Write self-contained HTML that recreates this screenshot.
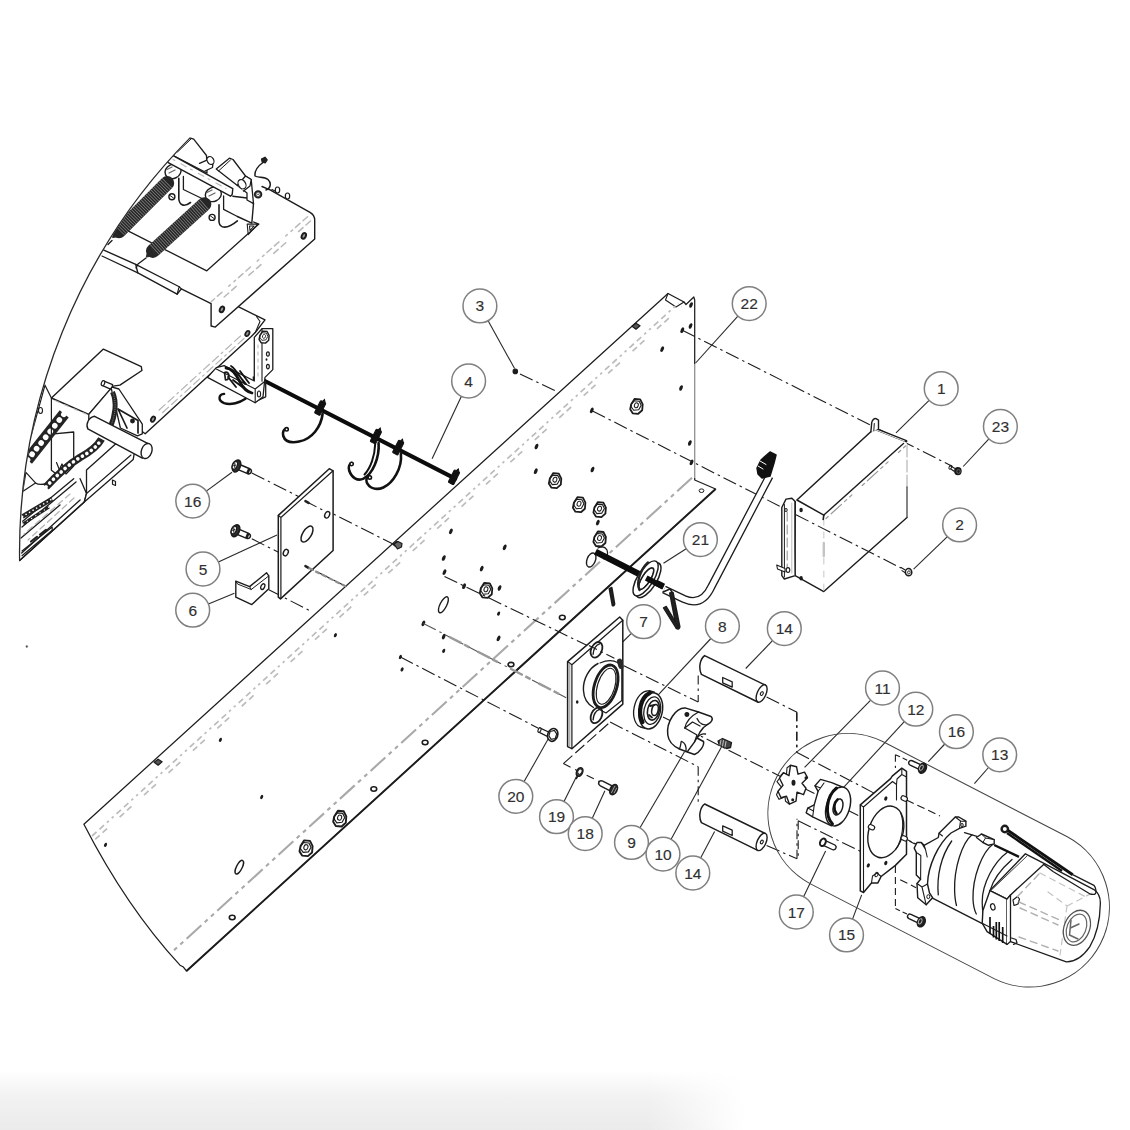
<!DOCTYPE html>
<html><head><meta charset="utf-8"><title>Exploded view</title>
<style>
html,body{margin:0;padding:0;background:#fff;}
body{width:1130px;height:1130px;overflow:hidden;position:relative;font-family:"Liberation Sans",sans-serif;}
#shade{position:absolute;left:0;top:1070px;width:745px;height:60px;
 background:linear-gradient(to bottom,rgba(236,236,236,0) 0%,rgba(238,238,238,.8) 45%,#ebebeb 100%);
 -webkit-mask-image:linear-gradient(to right,#000 0%,#000 87%,transparent 100%);mask-image:linear-gradient(to right,#000 0%,#000 87%,transparent 100%);}
svg{position:absolute;left:0;top:0;}
text{font-family:"Liberation Sans",sans-serif;}
</style></head><body>
<div id="shade"></div>
<svg width="1130" height="1130" viewBox="0 0 1130 1130">
<path d="M83.9,824.2 L668,293.5 L684,302 L686,304.5 L693.8,297 L694.7,300 L694.7,480 L715.6,489 L186.5,971 L183,966.7 L180,965.2 Q126.4,907 83.9,824.2 Z" stroke="#1c1c1c" stroke-width="1.25" fill="none" stroke-linejoin="round" stroke-linecap="round"/>
<path d="M668,293.5 L665.5,300 L676,307 L684,302" stroke="#1c1c1c" stroke-width="1.1" fill="none" stroke-linejoin="round" stroke-linecap="round"/>
<line x1="694.7" y1="364" x2="694.7" y2="478" stroke="#fff" stroke-width="2.4" stroke-linecap="butt"/>
<line x1="694.7" y1="364" x2="694.7" y2="478" stroke="#8a8a8a" stroke-width="1.2" stroke-linecap="butt"/>
<line x1="715.6" y1="489" x2="186.5" y2="971" stroke="#1c1c1c" stroke-width="1.9" stroke-linecap="butt"/>
<line x1="692" y1="477.8" x2="173.3" y2="950.8" stroke="#a9a9a9" stroke-width="2.1" stroke-linecap="butt" stroke-dasharray="20 4.5 4 4.5 4 4.5"/>
<line x1="92.1" y1="836" x2="678.5" y2="303.2" stroke="#bcbcbc" stroke-width="1.7" stroke-linecap="butt" stroke-dasharray="6 4 6 4 2.5 4 2.5 4"/>
<line x1="95.2" y1="839.4" x2="681.6" y2="306.6" stroke="#bcbcbc" stroke-width="1.7" stroke-linecap="butt" stroke-dasharray="6 4 6 17"/>
<ellipse cx="701.5" cy="490.7" rx="2.4" ry="1.8" transform="rotate(0 701.5 490.7)" stroke="#1c1c1c" stroke-width="1" fill="none"/>
<path d="M632,326.2 l4,-3 l4,2.5 l-4,3.5 Z" stroke="#1c1c1c" stroke-width="1.2" fill="#555" stroke-linejoin="round" stroke-linecap="round"/>
<path d="M393,544.6 l4,-3 l4,2.5 l-4,3.5 Z" stroke="#1c1c1c" stroke-width="1.2" fill="#555" stroke-linejoin="round" stroke-linecap="round"/>
<path d="M154.1,762.2 l4,-3 l4,2.5 l-4,3.5 Z" stroke="#1c1c1c" stroke-width="1.2" fill="#555" stroke-linejoin="round" stroke-linecap="round"/>
<ellipse cx="662.2" cy="349.1" rx="1.6" ry="3.0" transform="rotate(25 662.2 349.1)" fill="#1c1c1c"/>
<ellipse cx="681" cy="388" rx="1.6" ry="3.0" transform="rotate(25 681 388)" fill="#1c1c1c"/>
<ellipse cx="689.8" cy="443" rx="1.6" ry="3.0" transform="rotate(25 689.8 443)" fill="#1c1c1c"/>
<ellipse cx="691.6" cy="462.4" rx="1.6" ry="3.0" transform="rotate(25 691.6 462.4)" fill="#1c1c1c"/>
<ellipse cx="591.8" cy="410.4" rx="1.6" ry="3.0" transform="rotate(25 591.8 410.4)" fill="#1c1c1c"/>
<ellipse cx="592.5" cy="469.5" rx="1.6" ry="3.0" transform="rotate(25 592.5 469.5)" fill="#1c1c1c"/>
<ellipse cx="536.5" cy="446.5" rx="1.6" ry="3.0" transform="rotate(25 536.5 446.5)" fill="#1c1c1c"/>
<ellipse cx="535.8" cy="471.2" rx="1.6" ry="3.0" transform="rotate(25 535.8 471.2)" fill="#1c1c1c"/>
<ellipse cx="597.8" cy="522.6" rx="1.6" ry="3.0" transform="rotate(25 597.8 522.6)" fill="#1c1c1c"/>
<ellipse cx="450.9" cy="531.4" rx="1.6" ry="3.0" transform="rotate(25 450.9 531.4)" fill="#1c1c1c"/>
<ellipse cx="504.7" cy="547.3" rx="1.6" ry="3.0" transform="rotate(25 504.7 547.3)" fill="#1c1c1c"/>
<ellipse cx="443.8" cy="558" rx="1.6" ry="3.0" transform="rotate(25 443.8 558)" fill="#1c1c1c"/>
<ellipse cx="444.5" cy="572.1" rx="1.6" ry="3.0" transform="rotate(25 444.5 572.1)" fill="#1c1c1c"/>
<ellipse cx="481.7" cy="568.6" rx="1.6" ry="3.0" transform="rotate(25 481.7 568.6)" fill="#1c1c1c"/>
<ellipse cx="464.1" cy="586.2" rx="1.6" ry="3.0" transform="rotate(25 464.1 586.2)" fill="#1c1c1c"/>
<ellipse cx="423.4" cy="623.4" rx="1.6" ry="3.0" transform="rotate(25 423.4 623.4)" fill="#1c1c1c"/>
<ellipse cx="443.7" cy="636.6" rx="1.6" ry="3.0" transform="rotate(25 443.7 636.6)" fill="#1c1c1c"/>
<ellipse cx="498.6" cy="638.4" rx="1.6" ry="3.0" transform="rotate(25 498.6 638.4)" fill="#1c1c1c"/>
<ellipse cx="499.5" cy="588" rx="1.6" ry="3.0" transform="rotate(25 499.5 588)" fill="#1c1c1c"/>
<ellipse cx="682.3" cy="330.2" rx="1.6" ry="3.0" transform="rotate(25 682.3 330.2)" fill="#1c1c1c"/>
<ellipse cx="691" cy="305" rx="1.6" ry="3.0" transform="rotate(25 691 305)" fill="#1c1c1c"/>
<ellipse cx="690.5" cy="326" rx="1.6" ry="3.0" transform="rotate(25 690.5 326)" fill="#1c1c1c"/>
<ellipse cx="400.4" cy="657" rx="1.4" ry="2.2" transform="rotate(25 400.4 657)" fill="#1c1c1c"/>
<ellipse cx="402.1" cy="669.4" rx="1.4" ry="2.2" transform="rotate(25 402.1 669.4)" fill="#1c1c1c"/>
<ellipse cx="335.4" cy="635.2" rx="1.4" ry="2.2" transform="rotate(25 335.4 635.2)" fill="#1c1c1c"/>
<ellipse cx="220.4" cy="739.8" rx="1.4" ry="2.2" transform="rotate(25 220.4 739.8)" fill="#1c1c1c"/>
<ellipse cx="261.7" cy="797" rx="1.4" ry="2.2" transform="rotate(25 261.7 797)" fill="#1c1c1c"/>
<ellipse cx="105.5" cy="844.8" rx="1.4" ry="2.2" transform="rotate(25 105.5 844.8)" fill="#1c1c1c"/>
<ellipse cx="443.7" cy="650.8" rx="1.4" ry="2.2" transform="rotate(25 443.7 650.8)" fill="#1c1c1c"/>
<ellipse cx="498.6" cy="613.6" rx="1.4" ry="2.2" transform="rotate(25 498.6 613.6)" fill="#1c1c1c"/>
<ellipse cx="443.4" cy="604.8" rx="3.3" ry="8.8" transform="rotate(27 443.4 604.8)" stroke="#1c1c1c" stroke-width="1.4" fill="none"/>
<ellipse cx="239.3" cy="867.2" rx="2.8" ry="7.5" transform="rotate(27 239.3 867.2)" stroke="#1c1c1c" stroke-width="1.4" fill="none"/>
<ellipse cx="562.3" cy="617.5" rx="2.9" ry="2.2" transform="rotate(0 562.3 617.5)" stroke="#1c1c1c" stroke-width="1.6" fill="none"/>
<ellipse cx="511" cy="664.6" rx="2.9" ry="2.2" transform="rotate(0 511 664.6)" stroke="#1c1c1c" stroke-width="1.6" fill="none"/>
<ellipse cx="425.1" cy="742.5" rx="2.9" ry="2.2" transform="rotate(0 425.1 742.5)" stroke="#1c1c1c" stroke-width="1.6" fill="none"/>
<ellipse cx="373.8" cy="789" rx="2.9" ry="2.2" transform="rotate(0 373.8 789)" stroke="#1c1c1c" stroke-width="1.6" fill="none"/>
<ellipse cx="232.2" cy="917.5" rx="2.9" ry="2.2" transform="rotate(0 232.2 917.5)" stroke="#1c1c1c" stroke-width="1.6" fill="none"/>
<g transform="translate(636.7 405.8) scale(1.0)"><path d="M-5.5,-1.5 L-2,-7 L3.5,-6.5 L6,-1.5 L5.5,4.5 L1.5,8 L-4,7.5 L-6.5,3.5 Z" fill="#fff" stroke="#1c1c1c" stroke-width="1.8" stroke-linejoin="round"/><path d="M-5.5,-1.5 L-2.5,-5 L2.5,-4.5 L4.5,-0.5 L2,4 L-3,4.5 L-5.5,1 Z" fill="none" stroke="#1c1c1c" stroke-width="1.1" stroke-linejoin="round"/><ellipse cx="-0.5" cy="-0.3" rx="1.9" ry="2.5" transform="rotate(20)" fill="none" stroke="#1c1c1c" stroke-width="1"/></g>
<g transform="translate(555.3 480.1) scale(1.0)"><path d="M-5.5,-1.5 L-2,-7 L3.5,-6.5 L6,-1.5 L5.5,4.5 L1.5,8 L-4,7.5 L-6.5,3.5 Z" fill="#fff" stroke="#1c1c1c" stroke-width="1.8" stroke-linejoin="round"/><path d="M-5.5,-1.5 L-2.5,-5 L2.5,-4.5 L4.5,-0.5 L2,4 L-3,4.5 L-5.5,1 Z" fill="none" stroke="#1c1c1c" stroke-width="1.1" stroke-linejoin="round"/><ellipse cx="-0.5" cy="-0.3" rx="1.9" ry="2.5" transform="rotate(20)" fill="none" stroke="#1c1c1c" stroke-width="1"/></g>
<g transform="translate(579.4 504.2) scale(1.0)"><path d="M-5.5,-1.5 L-2,-7 L3.5,-6.5 L6,-1.5 L5.5,4.5 L1.5,8 L-4,7.5 L-6.5,3.5 Z" fill="#fff" stroke="#1c1c1c" stroke-width="1.8" stroke-linejoin="round"/><path d="M-5.5,-1.5 L-2.5,-5 L2.5,-4.5 L4.5,-0.5 L2,4 L-3,4.5 L-5.5,1 Z" fill="none" stroke="#1c1c1c" stroke-width="1.1" stroke-linejoin="round"/><ellipse cx="-0.5" cy="-0.3" rx="1.9" ry="2.5" transform="rotate(20)" fill="none" stroke="#1c1c1c" stroke-width="1"/></g>
<g transform="translate(599.9 509.1) scale(1.0)"><path d="M-5.5,-1.5 L-2,-7 L3.5,-6.5 L6,-1.5 L5.5,4.5 L1.5,8 L-4,7.5 L-6.5,3.5 Z" fill="#fff" stroke="#1c1c1c" stroke-width="1.8" stroke-linejoin="round"/><path d="M-5.5,-1.5 L-2.5,-5 L2.5,-4.5 L4.5,-0.5 L2,4 L-3,4.5 L-5.5,1 Z" fill="none" stroke="#1c1c1c" stroke-width="1.1" stroke-linejoin="round"/><ellipse cx="-0.5" cy="-0.3" rx="1.9" ry="2.5" transform="rotate(20)" fill="none" stroke="#1c1c1c" stroke-width="1"/></g>
<g transform="translate(599.9 538.5) scale(1.0)"><path d="M-5.5,-1.5 L-2,-7 L3.5,-6.5 L6,-1.5 L5.5,4.5 L1.5,8 L-4,7.5 L-6.5,3.5 Z" fill="#fff" stroke="#1c1c1c" stroke-width="1.8" stroke-linejoin="round"/><path d="M-5.5,-1.5 L-2.5,-5 L2.5,-4.5 L4.5,-0.5 L2,4 L-3,4.5 L-5.5,1 Z" fill="none" stroke="#1c1c1c" stroke-width="1.1" stroke-linejoin="round"/><ellipse cx="-0.5" cy="-0.3" rx="1.9" ry="2.5" transform="rotate(20)" fill="none" stroke="#1c1c1c" stroke-width="1"/></g>
<g transform="translate(486.3 589.8) scale(1.0)"><path d="M-5.5,-1.5 L-2,-7 L3.5,-6.5 L6,-1.5 L5.5,4.5 L1.5,8 L-4,7.5 L-6.5,3.5 Z" fill="#fff" stroke="#1c1c1c" stroke-width="1.8" stroke-linejoin="round"/><path d="M-5.5,-1.5 L-2.5,-5 L2.5,-4.5 L4.5,-0.5 L2,4 L-3,4.5 L-5.5,1 Z" fill="none" stroke="#1c1c1c" stroke-width="1.1" stroke-linejoin="round"/><ellipse cx="-0.5" cy="-0.3" rx="1.9" ry="2.5" transform="rotate(20)" fill="none" stroke="#1c1c1c" stroke-width="1"/></g>
<g transform="translate(340 818.1) scale(1.05)"><path d="M-5.5,-1.5 L-2,-7 L3.5,-6.5 L6,-1.5 L5.5,4.5 L1.5,8 L-4,7.5 L-6.5,3.5 Z" fill="#fff" stroke="#1c1c1c" stroke-width="1.8" stroke-linejoin="round"/><path d="M-5.5,-1.5 L-2.5,-5 L2.5,-4.5 L4.5,-0.5 L2,4 L-3,4.5 L-5.5,1 Z" fill="none" stroke="#1c1c1c" stroke-width="1.1" stroke-linejoin="round"/><ellipse cx="-0.5" cy="-0.3" rx="1.9" ry="2.5" transform="rotate(20)" fill="none" stroke="#1c1c1c" stroke-width="1"/></g>
<g transform="translate(306.3 847.7) scale(1.05)"><path d="M-5.5,-1.5 L-2,-7 L3.5,-6.5 L6,-1.5 L5.5,4.5 L1.5,8 L-4,7.5 L-6.5,3.5 Z" fill="#fff" stroke="#1c1c1c" stroke-width="1.8" stroke-linejoin="round"/><path d="M-5.5,-1.5 L-2.5,-5 L2.5,-4.5 L4.5,-0.5 L2,4 L-3,4.5 L-5.5,1 Z" fill="none" stroke="#1c1c1c" stroke-width="1.1" stroke-linejoin="round"/><ellipse cx="-0.5" cy="-0.3" rx="1.9" ry="2.5" transform="rotate(20)" fill="none" stroke="#1c1c1c" stroke-width="1"/></g>
<line x1="488.1" y1="320.7" x2="514.6" y2="368.6" stroke="#2a2a2a" stroke-width="1.1" stroke-linecap="butt"/>
<circle cx="479.9" cy="305.9" r="16.9" stroke="#808080" stroke-width="1.5" fill="#fff"/>
<text x="479.9" y="311.4" text-anchor="middle" font-size="15.5" fill="#303030" stroke="#303030" stroke-width="0.15">3</text>
<circle cx="515.3" cy="371.4" r="2.2" stroke="#1c1c1c" stroke-width="1.2" fill="#1c1c1c"/>
<line x1="520" y1="374" x2="557" y2="391.6" stroke="#1c1c1c" stroke-width="1.1" stroke-linecap="butt" stroke-dasharray="14 4 2.5 4"/>
<line x1="461.4" y1="396.3" x2="432.1" y2="458.8" stroke="#2a2a2a" stroke-width="1.1" stroke-linecap="butt"/>
<circle cx="468.6" cy="381" r="16.9" stroke="#808080" stroke-width="1.5" fill="#fff"/>
<text x="468.6" y="386.5" text-anchor="middle" font-size="15.5" fill="#303030" stroke="#303030" stroke-width="0.15">4</text>
<line x1="737.9" y1="316.1" x2="695.6" y2="363" stroke="#2a2a2a" stroke-width="1.1" stroke-linecap="butt"/>
<circle cx="749.2" cy="303.6" r="16.9" stroke="#808080" stroke-width="1.5" fill="#fff"/>
<text x="749.2" y="309.1" text-anchor="middle" font-size="15.5" fill="#303030" stroke="#303030" stroke-width="0.15">22</text>
<line x1="929.1" y1="400.4" x2="896" y2="432.8" stroke="#2a2a2a" stroke-width="1.1" stroke-linecap="butt"/>
<circle cx="941.2" cy="388.6" r="16.9" stroke="#808080" stroke-width="1.5" fill="#fff"/>
<text x="941.2" y="394.1" text-anchor="middle" font-size="15.5" fill="#303030" stroke="#303030" stroke-width="0.15">1</text>
<line x1="988.9" y1="438.9" x2="963.2" y2="466.5" stroke="#2a2a2a" stroke-width="1.1" stroke-linecap="butt"/>
<circle cx="1000.4" cy="426.5" r="16.9" stroke="#808080" stroke-width="1.5" fill="#fff"/>
<text x="1000.4" y="432.0" text-anchor="middle" font-size="15.5" fill="#303030" stroke="#303030" stroke-width="0.15">23</text>
<line x1="947.4" y1="536.6" x2="913.6" y2="569.1" stroke="#2a2a2a" stroke-width="1.1" stroke-linecap="butt"/>
<circle cx="959.6" cy="524.9" r="16.9" stroke="#808080" stroke-width="1.5" fill="#fff"/>
<text x="959.6" y="530.4" text-anchor="middle" font-size="15.5" fill="#303030" stroke="#303030" stroke-width="0.15">2</text>
<line x1="686.2" y1="548.7" x2="663.5" y2="563.2" stroke="#2a2a2a" stroke-width="1.1" stroke-linecap="butt"/>
<circle cx="700.4" cy="539.6" r="16.9" stroke="#808080" stroke-width="1.5" fill="#fff"/>
<text x="700.4" y="545.1" text-anchor="middle" font-size="15.5" fill="#303030" stroke="#303030" stroke-width="0.15">21</text>
<line x1="631.4" y1="633.4" x2="622.6" y2="642" stroke="#2a2a2a" stroke-width="1.1" stroke-linecap="butt"/>
<circle cx="643.6" cy="621.7" r="16.9" stroke="#808080" stroke-width="1.5" fill="#fff"/>
<text x="643.6" y="627.2" text-anchor="middle" font-size="15.5" fill="#303030" stroke="#303030" stroke-width="0.15">7</text>
<line x1="710.9" y1="638.5" x2="658" y2="695.1" stroke="#2a2a2a" stroke-width="1.1" stroke-linecap="butt"/>
<circle cx="722.4" cy="626.1" r="16.9" stroke="#808080" stroke-width="1.5" fill="#fff"/>
<text x="722.4" y="631.6" text-anchor="middle" font-size="15.5" fill="#303030" stroke="#303030" stroke-width="0.15">8</text>
<line x1="772.5" y1="640.7" x2="745.7" y2="668.5" stroke="#2a2a2a" stroke-width="1.1" stroke-linecap="butt"/>
<circle cx="784.3" cy="628.6" r="16.9" stroke="#808080" stroke-width="1.5" fill="#fff"/>
<text x="784.3" y="634.1" text-anchor="middle" font-size="15.5" fill="#303030" stroke="#303030" stroke-width="0.15">14</text>
<line x1="206.3" y1="491.1" x2="232" y2="472.3" stroke="#2a2a2a" stroke-width="1.1" stroke-linecap="butt"/>
<circle cx="192.7" cy="501.1" r="16.9" stroke="#808080" stroke-width="1.5" fill="#fff"/>
<text x="192.7" y="506.6" text-anchor="middle" font-size="15.5" fill="#303030" stroke="#303030" stroke-width="0.15">16</text>
<line x1="218.4" y1="561.9" x2="277" y2="535" stroke="#2a2a2a" stroke-width="1.1" stroke-linecap="butt"/>
<circle cx="203" cy="569" r="16.9" stroke="#808080" stroke-width="1.5" fill="#fff"/>
<text x="203" y="574.5" text-anchor="middle" font-size="15.5" fill="#303030" stroke="#303030" stroke-width="0.15">5</text>
<line x1="208.4" y1="603.9" x2="234.4" y2="593.3" stroke="#2a2a2a" stroke-width="1.1" stroke-linecap="butt"/>
<circle cx="192.7" cy="610.2" r="16.9" stroke="#808080" stroke-width="1.5" fill="#fff"/>
<text x="192.7" y="615.7" text-anchor="middle" font-size="15.5" fill="#303030" stroke="#303030" stroke-width="0.15">6</text>
<line x1="870.7" y1="700.1" x2="804.6" y2="767.4" stroke="#2a2a2a" stroke-width="1.1" stroke-linecap="butt"/>
<circle cx="882.5" cy="688" r="16.9" stroke="#808080" stroke-width="1.5" fill="#fff"/>
<text x="882.5" y="693.5" text-anchor="middle" font-size="15.5" fill="#303030" stroke="#303030" stroke-width="0.15">11</text>
<line x1="904.3" y1="721.6" x2="842.7" y2="788.4" stroke="#2a2a2a" stroke-width="1.1" stroke-linecap="butt"/>
<circle cx="915.8" cy="709.2" r="16.9" stroke="#808080" stroke-width="1.5" fill="#fff"/>
<text x="915.8" y="714.7" text-anchor="middle" font-size="15.5" fill="#303030" stroke="#303030" stroke-width="0.15">12</text>
<line x1="944.8" y1="744.0" x2="928.3" y2="761.7" stroke="#2a2a2a" stroke-width="1.1" stroke-linecap="butt"/>
<circle cx="956.4" cy="731.7" r="16.9" stroke="#808080" stroke-width="1.5" fill="#fff"/>
<text x="956.4" y="737.2" text-anchor="middle" font-size="15.5" fill="#303030" stroke="#303030" stroke-width="0.15">16</text>
<line x1="988.5" y1="767.5" x2="974.4" y2="783.6" stroke="#2a2a2a" stroke-width="1.1" stroke-linecap="butt"/>
<circle cx="999.7" cy="754.8" r="16.9" stroke="#808080" stroke-width="1.5" fill="#fff"/>
<text x="999.7" y="760.3" text-anchor="middle" font-size="15.5" fill="#303030" stroke="#303030" stroke-width="0.15">13</text>
<line x1="524.1" y1="781.6" x2="550" y2="735.8" stroke="#2a2a2a" stroke-width="1.1" stroke-linecap="butt"/>
<circle cx="515.8" cy="796.3" r="16.9" stroke="#808080" stroke-width="1.5" fill="#fff"/>
<text x="515.8" y="801.8" text-anchor="middle" font-size="15.5" fill="#303030" stroke="#303030" stroke-width="0.15">20</text>
<line x1="564.0" y1="801.6" x2="576.5" y2="776.5" stroke="#2a2a2a" stroke-width="1.1" stroke-linecap="butt"/>
<circle cx="556.5" cy="816.7" r="16.9" stroke="#808080" stroke-width="1.5" fill="#fff"/>
<text x="556.5" y="822.2" text-anchor="middle" font-size="15.5" fill="#303030" stroke="#303030" stroke-width="0.15">19</text>
<line x1="592.3" y1="818.2" x2="604.9" y2="790.7" stroke="#2a2a2a" stroke-width="1.1" stroke-linecap="butt"/>
<circle cx="585.2" cy="833.6" r="16.9" stroke="#808080" stroke-width="1.5" fill="#fff"/>
<text x="585.2" y="839.1" text-anchor="middle" font-size="15.5" fill="#303030" stroke="#303030" stroke-width="0.15">18</text>
<line x1="640.0" y1="827.8" x2="684.5" y2="751.8" stroke="#2a2a2a" stroke-width="1.1" stroke-linecap="butt"/>
<circle cx="631.5" cy="842.4" r="16.9" stroke="#808080" stroke-width="1.5" fill="#fff"/>
<text x="631.5" y="847.9" text-anchor="middle" font-size="15.5" fill="#303030" stroke="#303030" stroke-width="0.15">9</text>
<line x1="671.1" y1="839.3" x2="721.7" y2="746.5" stroke="#2a2a2a" stroke-width="1.1" stroke-linecap="butt"/>
<circle cx="663" cy="854.1" r="16.9" stroke="#808080" stroke-width="1.5" fill="#fff"/>
<text x="663" y="859.6" text-anchor="middle" font-size="15.5" fill="#303030" stroke="#303030" stroke-width="0.15">10</text>
<line x1="700.6" y1="858.0" x2="714.6" y2="831.4" stroke="#2a2a2a" stroke-width="1.1" stroke-linecap="butt"/>
<circle cx="692.8" cy="873" r="16.9" stroke="#808080" stroke-width="1.5" fill="#fff"/>
<text x="692.8" y="878.5" text-anchor="middle" font-size="15.5" fill="#303030" stroke="#303030" stroke-width="0.15">14</text>
<line x1="803.6" y1="896.8" x2="825.6" y2="851.1" stroke="#2a2a2a" stroke-width="1.1" stroke-linecap="butt"/>
<circle cx="796.3" cy="912" r="16.9" stroke="#808080" stroke-width="1.5" fill="#fff"/>
<text x="796.3" y="917.5" text-anchor="middle" font-size="15.5" fill="#303030" stroke="#303030" stroke-width="0.15">17</text>
<line x1="852.5" y1="919.1" x2="861.7" y2="894.9" stroke="#2a2a2a" stroke-width="1.1" stroke-linecap="butt"/>
<circle cx="846.5" cy="934.9" r="16.9" stroke="#808080" stroke-width="1.5" fill="#fff"/>
<text x="846.5" y="940.4" text-anchor="middle" font-size="15.5" fill="#303030" stroke="#303030" stroke-width="0.15">15</text>
<line x1="261.9" y1="379.5" x2="455.2" y2="478.6" stroke="#0c0c0c" stroke-width="4.2" stroke-linecap="round"/>
<g transform="translate(320.2 408) rotate(27)"><rect x="-3" y="-7" width="6" height="14" rx="1" fill="#111" stroke="#111" stroke-width="1"/><path d="M-1,-7 L0,-9.5 L2,-7" fill="#111" stroke="#111" stroke-width="1"/></g>
<g transform="translate(375.9 436.5) rotate(27)"><rect x="-3" y="-7" width="6" height="14" rx="1" fill="#111" stroke="#111" stroke-width="1"/><path d="M-1,-7 L0,-9.5 L2,-7" fill="#111" stroke="#111" stroke-width="1"/></g>
<g transform="translate(398.2 447.6) rotate(27)"><rect x="-3" y="-7" width="6" height="14" rx="1" fill="#111" stroke="#111" stroke-width="1"/><path d="M-1,-7 L0,-9.5 L2,-7" fill="#111" stroke="#111" stroke-width="1"/></g>
<g transform="translate(454 477.3) rotate(27)"><rect x="-3" y="-7" width="6" height="14" rx="1" fill="#111" stroke="#111" stroke-width="1"/><path d="M-1,-7 L0,-9.5 L2,-7" fill="#111" stroke="#111" stroke-width="1"/></g>
<path d="M322.6,414 C321,427 312,439 299.1,441.6 C291,443.2 285,441.5 283.3,436 C282.2,432.4 283.6,429 286.8,428.3" stroke="#111" stroke-width="2.6" fill="none" stroke-linejoin="round" stroke-linecap="round"/>
<circle cx="286.6" cy="429.3" r="1.7" stroke="#111" stroke-width="1.6" fill="#fff"/>
<path d="M378.6,443 C379.6,458 372.5,474 363.5,478.6 C357.5,481.5 351.5,477.5 349.2,470.5 C348.2,467 349.3,463.8 351.8,463" stroke="#111" stroke-width="2.6" fill="none" stroke-linejoin="round" stroke-linecap="round"/>
<circle cx="351.6" cy="464" r="1.7" stroke="#111" stroke-width="1.6" fill="#fff"/>
<path d="M400.9,454 C402.4,468 393,483 383.3,487.5 C376.5,490.5 369.5,488.5 366.8,482.5 C365.6,479.5 366.8,476.8 369.8,476.6" stroke="#111" stroke-width="2.6" fill="none" stroke-linejoin="round" stroke-linecap="round"/>
<circle cx="369.8" cy="477.4" r="1.7" stroke="#111" stroke-width="1.6" fill="#fff"/>
<path d="M375.2,444 C374.8,456 370.5,468 364.5,474.5" stroke="#111" stroke-width="2.0" fill="none" stroke-linejoin="round" stroke-linecap="round"/>
<path d="M253.3,377 L265.7,382 L265.7,396.8 L254.5,401.8 Z" stroke="#1c1c1c" stroke-width="1.3" fill="#fff" stroke-linejoin="round" stroke-linecap="round"/>
<line x1="251.8" y1="472.9" x2="393" y2="544.1" stroke="#1c1c1c" stroke-width="1.1" stroke-linecap="butt" stroke-dasharray="14 4 2.5 4"/>
<line x1="251.8" y1="538.8" x2="346.3" y2="586.6" stroke="#1c1c1c" stroke-width="1.1" stroke-linecap="butt" stroke-dasharray="14 4 2.5 4"/>
<line x1="268.8" y1="589.7" x2="312.3" y2="612" stroke="#1c1c1c" stroke-width="1.1" stroke-linecap="butt" stroke-dasharray="14 4 2.5 4"/>
<path d="M278.3,515.4 L329.3,468.7 L333.1,470.8 L333.1,550.5 L280.5,598.9 L278.3,597.2 Z" stroke="#1c1c1c" stroke-width="1.5" fill="#fff" stroke-linejoin="round" stroke-linecap="round"/>
<path d="M278.3,515.4 L280.9,517.5 L280.9,598.5 M280.9,517.5 L333.1,470.8" stroke="#1c1c1c" stroke-width="1.2" fill="none" stroke-linejoin="round" stroke-linecap="round"/>
<ellipse cx="307" cy="534.1" rx="4.3" ry="9" transform="rotate(32 307 534.1)" stroke="#1c1c1c" stroke-width="1.5" fill="none"/>
<ellipse cx="327.2" cy="514.8" rx="2.3" ry="3.4" transform="rotate(25 327.2 514.8)" stroke="#1c1c1c" stroke-width="1.4" fill="none"/>
<ellipse cx="285.8" cy="552.6" rx="2.3" ry="3.4" transform="rotate(25 285.8 552.6)" stroke="#1c1c1c" stroke-width="1.4" fill="none"/>
<line x1="305.5" y1="501.2" x2="308.5" y2="502.8" stroke="#222" stroke-width="2.6" stroke-linecap="round"/>
<line x1="305.5" y1="566.2" x2="308.5" y2="567.8" stroke="#222" stroke-width="2.6" stroke-linecap="round"/>
<line x1="308.5" y1="502.8" x2="325" y2="511.2" stroke="#1c1c1c" stroke-width="1.1" stroke-linecap="butt" stroke-dasharray="9 4 2.5 4"/>
<line x1="308.5" y1="567.8" x2="346" y2="586.6" stroke="#8d8d8d" stroke-width="2.2" stroke-linecap="butt" stroke-dasharray="5 2.5"/>
<path d="M235.8,581.2 L249.6,586.6 L266.6,572.8 L268.8,575.9 L268.8,588.7 L251.8,604.6 L235.8,597.2 Z" stroke="#1c1c1c" stroke-width="1.4" fill="#fff" stroke-linejoin="round" stroke-linecap="round"/>
<path d="M249.6,586.6 L251.2,589.5 L268.8,575.9 M235.8,581.2 L237.5,584 L251.2,589.5" stroke="#1c1c1c" stroke-width="1.0" fill="none" stroke-linejoin="round" stroke-linecap="round"/>
<ellipse cx="262.8" cy="586.6" rx="1.8" ry="3.0" transform="rotate(25 262.8 586.6)" stroke="#1c1c1c" stroke-width="1.3" fill="none"/>
<g transform="translate(236.2 465.9) rotate(23) scale(1.0)"><path d="M2,-2.7 L13.5,-2.7 Q16.3,-2.4 16.3,0 Q16.3,2.4 13.5,2.7 L2,2.7 Z" fill="#fff" stroke="#1c1c1c" stroke-width="1.5"/><path d="M13.2,-2.7 L13.2,2.7" stroke="#1c1c1c" stroke-width="2.6"/><ellipse cx="0.4" cy="0" rx="3.6" ry="6.2" fill="#333" stroke="#1c1c1c" stroke-width="1.8"/><ellipse cx="-1.4" cy="0" rx="2.4" ry="4.2" fill="#fff" stroke="#1c1c1c" stroke-width="1.5"/><path d="M-2.6,-2.6 L-0.4,2.6 M-2.8,1 L-0.2,-1" stroke="#1c1c1c" stroke-width="1"/></g>
<g transform="translate(235.2 530.6) rotate(23) scale(1.0)"><path d="M2,-2.7 L13.5,-2.7 Q16.3,-2.4 16.3,0 Q16.3,2.4 13.5,2.7 L2,2.7 Z" fill="#fff" stroke="#1c1c1c" stroke-width="1.5"/><path d="M13.2,-2.7 L13.2,2.7" stroke="#1c1c1c" stroke-width="2.6"/><ellipse cx="0.4" cy="0" rx="3.6" ry="6.2" fill="#333" stroke="#1c1c1c" stroke-width="1.8"/><ellipse cx="-1.4" cy="0" rx="2.4" ry="4.2" fill="#fff" stroke="#1c1c1c" stroke-width="1.5"/><path d="M-2.6,-2.6 L-0.4,2.6 M-2.8,1 L-0.2,-1" stroke="#1c1c1c" stroke-width="1"/></g>
<path d="M394,544 l4,-2.5 l4,2 l-0.5,3.5 l-4,2 Z" stroke="#1c1c1c" stroke-width="1.2" fill="#666" stroke-linejoin="round" stroke-linecap="round"/>
<line x1="682.3" y1="330.2" x2="952.6" y2="466.5" stroke="#1c1c1c" stroke-width="1.1" stroke-linecap="butt" stroke-dasharray="14 4 2.5 4"/>
<line x1="592.5" y1="411" x2="781" y2="506.9" stroke="#1c1c1c" stroke-width="1.1" stroke-linecap="butt" stroke-dasharray="14 4 2.5 4"/>
<path d="M769.5,476 L711.5,586.5 Q702,607 684,599 L664,589.5" stroke="#1c1c1c" stroke-width="8.2" fill="none" stroke-linejoin="round" stroke-linecap="butt"/>
<path d="M769.5,476 L711.5,586.5 Q702,607 684,599 L664,589.5" stroke="#fff" stroke-width="5.6" fill="none" stroke-linejoin="round" stroke-linecap="butt"/>
<path d="M757,468 L761,460 L770,452 L776,455 L774,463 L770,476 L762,478 L758,474 Z" stroke="#111" stroke-width="1.5" fill="#111" stroke-linejoin="round" stroke-linecap="round"/>
<path d="M758,466 l5,3 M760,461 l6,3.5" stroke="#fff" stroke-width="1" fill="none" stroke-linejoin="round" stroke-linecap="round"/>
<ellipse cx="591.2" cy="560" rx="4.2" ry="7.4" transform="rotate(22 591.2 560)" stroke="#1c1c1c" stroke-width="1.4" fill="#fff"/>
<path d="M598,548 q6,-3 9,2 q2,6 -3,9" stroke="#1c1c1c" stroke-width="1.2" fill="none" stroke-linejoin="round" stroke-linecap="round"/>
<line x1="595.5" y1="551.8" x2="663.5" y2="586.6" stroke="#0c0c0c" stroke-width="6.2" stroke-linecap="butt"/>
<path d="M659.00,563.24 A8,20 32 1 1 637.80,597.16 A8,20 32 1 1 659.00,563.24 Z M652.82,568.00 A4.2,12.5 32 1 1 639.58,589.20 A4.2,12.5 32 1 1 652.82,568.00 Z" stroke="#1c1c1c" stroke-width="1.5" fill="#fff" stroke-linejoin="round" stroke-linecap="round"/>
<path d="M656.20,561.44 A8,20 32 1 1 635.00,595.36 A8,20 32 1 1 656.20,561.44 Z M652.82,568.00 A4.2,12.5 32 1 1 639.58,589.20 A4.2,12.5 32 1 1 652.82,568.00 Z" fill="#fff" fill-rule="evenodd" stroke="#1c1c1c" stroke-width="1.5"/>
<line x1="646.2" y1="578" x2="663.5" y2="586.9" stroke="#0c0c0c" stroke-width="5.6" stroke-linecap="butt"/>
<path d="M639.5,590 C636,583 640,570 648,562.5" stroke="#222" stroke-width="2.4" fill="none" stroke-linejoin="round" stroke-linecap="round"/>
<path d="M609.3,588.7 L611.8,587.6 L614.6,604 Q614,606.5 612.4,605.5 Z" stroke="#1c1c1c" stroke-width="1.6" fill="#222" stroke-linejoin="round" stroke-linecap="round"/>
<path d="M669.8,593 L673,592.5 L679.8,627 Q678.5,630.5 676.5,628 Z" stroke="#1c1c1c" stroke-width="1.6" fill="#222" stroke-linejoin="round" stroke-linecap="round"/>
<path d="M663.5,607.8 L666.3,606.5 L678,626 L676.3,628.5 Z" stroke="#1c1c1c" stroke-width="1.4" fill="#222" stroke-linejoin="round" stroke-linecap="round"/>
<path d="M663,592 l7,-3 l2,3" stroke="#1c1c1c" stroke-width="1.4" fill="none" stroke-linejoin="round" stroke-linecap="round"/>
<path d="M781.8,507.5 L786,499.1 L791.9,498.3 L795.2,501.6 L795.2,575.6 L784.3,579 L781.8,575.6 Z" stroke="#1c1c1c" stroke-width="1.4" fill="#fff" stroke-linejoin="round" stroke-linecap="round"/>
<path d="M784.4,504.5 L784.4,577" stroke="#1c1c1c" stroke-width="1.0" fill="none" stroke-linejoin="round" stroke-linecap="round"/>
<path d="M787.2,512 L787.2,570" stroke="#999" stroke-width="1.1" fill="none" stroke-linejoin="round" stroke-linecap="round" stroke-dasharray="9 4"/>
<path d="M791.8,503 L791.8,573" stroke="#bbb" stroke-width="1.0" fill="none" stroke-linejoin="round" stroke-linecap="round"/>
<ellipse cx="786" cy="510" rx="1.2" ry="1.6" transform="rotate(0 786 510)" stroke="#1c1c1c" stroke-width="1" fill="none"/>
<path d="M776.7,565 L785,568.5 L785,572 L777.5,569 Z" stroke="#1c1c1c" stroke-width="1.1" fill="#fff" stroke-linejoin="round" stroke-linecap="round"/>
<ellipse cx="788" cy="570" rx="1.8" ry="2.4" transform="rotate(0 788 570)" stroke="#1c1c1c" stroke-width="1.1" fill="#fff"/>
<path d="M796.9,500 L874.3,428.5 L906.2,441.1 L907,517.6 L823.8,591.6 L795.2,575.6 Z" stroke="#fff" stroke-width="1.0" fill="#fff" stroke-linejoin="round" stroke-linecap="round"/>
<path d="M796.9,500 L874.3,428.5 M823.8,515.1 L796.9,500" stroke="#1c1c1c" stroke-width="1.5" fill="none" stroke-linejoin="round" stroke-linecap="round"/>
<path d="M874.3,428.5 L906.2,441.1" stroke="#1c1c1c" stroke-width="2.6" fill="none" stroke-linejoin="round" stroke-linecap="round"/>
<path d="M875.5,429.6 L904.5,441" stroke="#fff" stroke-width="0.9" fill="none" stroke-linejoin="round" stroke-linecap="round"/>
<path d="M823.8,515.1 L903.5,443.5" stroke="#1c1c1c" stroke-width="1.4" fill="none" stroke-linejoin="round" stroke-linecap="round"/>
<path d="M826,518.5 L905.5,446" stroke="#999" stroke-width="1.2" fill="none" stroke-linejoin="round" stroke-linecap="round" stroke-dasharray="3 4 14 4 3 4 3 14"/>
<path d="M795.2,501.6 L795.2,575.6 L823.8,591.6 L907,517.6" stroke="#1c1c1c" stroke-width="1.4" fill="none" stroke-linejoin="round" stroke-linecap="round"/>
<path d="M907,445 L907,487" stroke="#b5b5b5" stroke-width="1.2" fill="none" stroke-linejoin="round" stroke-linecap="round" stroke-dasharray="12 3"/>
<path d="M907,487 L907,517.6" stroke="#444" stroke-width="1.3" fill="none" stroke-linejoin="round" stroke-linecap="round"/>
<path d="M823.8,519 L823.8,590" stroke="#d0d0d0" stroke-width="1.2" fill="none" stroke-linejoin="round" stroke-linecap="round" stroke-dasharray="6 7"/>
<path d="M823.8,543 L823.8,556" stroke="#c4c4c4" stroke-width="2.4" fill="none" stroke-linejoin="round" stroke-linecap="round"/>
<path d="M823.8,515.1 L823.2,519.5" stroke="#1c1c1c" stroke-width="1.6" fill="none" stroke-linejoin="round" stroke-linecap="round"/>
<path d="M870.9,431.9 L871.7,422.6 Q873,418.2 876,418.6 L878.5,420.1 L878.5,428.5" stroke="#1c1c1c" stroke-width="1.4" fill="#fff" stroke-linejoin="round" stroke-linecap="round"/>
<path d="M873.8,431 L874.3,423.5" stroke="#1c1c1c" stroke-width="1" fill="none" stroke-linejoin="round" stroke-linecap="round"/>
<ellipse cx="801.1" cy="510" rx="1.7" ry="2.2" transform="rotate(0 801.1 510)" fill="#1c1c1c"/>
<ellipse cx="801.1" cy="578.2" rx="1.7" ry="2.2" transform="rotate(0 801.1 578.2)" fill="#1c1c1c"/>
<line x1="796" y1="514.8" x2="901.2" y2="568.1" stroke="#1c1c1c" stroke-width="1.1" stroke-linecap="butt" stroke-dasharray="14 4 2.5 4"/>
<g transform="translate(957.9 471.1)"><ellipse cx="0" cy="0" rx="3.8" ry="4.2" fill="#1a1a1a"/><ellipse cx="0.6" cy="0.3" rx="1.7" ry="2" fill="none" stroke="#777" stroke-width="0.8"/><path d="M-8,-5.5 L-3,-2.5 M-7,-2 L-3.5,0.5" stroke="#1c1c1c" stroke-width="1.2"/><ellipse cx="-7.6" cy="-3.8" rx="1.2" ry="2" transform="rotate(25 -7.6 -3.8)" fill="none" stroke="#1c1c1c" stroke-width="1"/></g>
<g transform="translate(908.6 572.2)"><ellipse cx="0" cy="0" rx="3.2" ry="3.6" fill="#fff" stroke="#1c1c1c" stroke-width="1.5"/><ellipse cx="0.3" cy="0.2" rx="1.3" ry="1.6" fill="none" stroke="#1c1c1c" stroke-width="0.9"/><path d="M-8,-5 L-3,-2 M-7,-1.8 L-3,0.8" stroke="#1c1c1c" stroke-width="1.1"/></g>
<line x1="444.5" y1="576.5" x2="588.9" y2="646.3" stroke="#1c1c1c" stroke-width="1.1" stroke-linecap="butt" stroke-dasharray="14 4 2.5 4"/>
<line x1="423.4" y1="623.4" x2="568.5" y2="698.9" stroke="#555" stroke-width="1.1" stroke-linecap="butt" stroke-dasharray="14 4 2.5 4"/>
<line x1="449" y1="636.7" x2="566" y2="697.6" stroke="#9a9a9a" stroke-width="2.4" stroke-linecap="butt" stroke-dasharray="14 3 6 9 14 3 6 14"/>
<line x1="400.4" y1="657" x2="539.3" y2="728.7" stroke="#1c1c1c" stroke-width="1.1" stroke-linecap="butt" stroke-dasharray="14 4 2.5 4"/>
<line x1="623.9" y1="665.8" x2="698.2" y2="702" stroke="#1c1c1c" stroke-width="1.1" stroke-linecap="butt" stroke-dasharray="14 4 2.5 4"/>
<line x1="698.2" y1="675.4" x2="698.2" y2="702" stroke="#1c1c1c" stroke-width="1.1" stroke-linecap="butt" stroke-dasharray="9 4 2.5 4"/>
<line x1="610.1" y1="722.1" x2="698.2" y2="766.7" stroke="#1c1c1c" stroke-width="1.1" stroke-linecap="butt" stroke-dasharray="14 4 2.5 4"/>
<line x1="698.2" y1="766.7" x2="698.2" y2="805" stroke="#1c1c1c" stroke-width="1.1" stroke-linecap="butt" stroke-dasharray="9 4 2.5 4"/>
<line x1="663" y1="716.9" x2="780" y2="776.3" stroke="#1c1c1c" stroke-width="1.1" stroke-linecap="butt" stroke-dasharray="14 4 2.5 4"/>
<line x1="563.4" y1="763.6" x2="610.1" y2="722.1" stroke="#1c1c1c" stroke-width="1.1" stroke-linecap="butt" stroke-dasharray="12 4"/>
<line x1="563.4" y1="763.6" x2="601.6" y2="782.7" stroke="#1c1c1c" stroke-width="1.1" stroke-linecap="butt" stroke-dasharray="8 5"/>
<path d="M567.6,661.6 L619.7,617 L622.8,620.2 L622.8,704.1 L571.9,748.7 L567.6,746.6 Z" stroke="#1c1c1c" stroke-width="1.5" fill="#fff" stroke-linejoin="round" stroke-linecap="round"/>
<path d="M567.6,661.6 L571.9,664.8 L571.9,748.7 M571.9,664.8 L622.8,620.2" stroke="#1c1c1c" stroke-width="1.2" fill="none" stroke-linejoin="round" stroke-linecap="round"/>
<path d="M569.8,664 L569.8,746" stroke="#888" stroke-width="0.9" fill="none" stroke-linejoin="round" stroke-linecap="round"/>
<ellipse cx="596.5" cy="649.8" rx="5.3" ry="8.2" transform="rotate(25 596.5 649.8)" stroke="#1c1c1c" stroke-width="1.8" fill="#fff"/>
<path d="M593.1,654.3 q0.6,-8.5 6.5,-10.5" stroke="#1c1c1c" stroke-width="1.4" fill="none" stroke-linejoin="round" stroke-linecap="round"/>
<ellipse cx="596.5" cy="715.4" rx="5.3" ry="8.2" transform="rotate(25 596.5 715.4)" stroke="#1c1c1c" stroke-width="1.8" fill="#fff"/>
<path d="M593.1,719.9 q0.6,-8.5 6.5,-10.5" stroke="#1c1c1c" stroke-width="1.4" fill="none" stroke-linejoin="round" stroke-linecap="round"/>
<path d="M598,663.5 C589,668 583,679 583.4,690 C583.8,698 588,704.5 593.5,707.5" stroke="#1c1c1c" stroke-width="1.4" fill="none" stroke-linejoin="round" stroke-linecap="round"/>
<path d="M600,663 C606,660.5 613,660 617.5,662.5 L621.8,668 L621.8,700.5 L606,713 L598.5,709" stroke="#1c1c1c" stroke-width="1.2" fill="none" stroke-linejoin="round" stroke-linecap="round"/>
<ellipse cx="605.6" cy="686.3" rx="11.2" ry="22" transform="rotate(17 605.6 686.3)" stroke="#1c1c1c" stroke-width="2.8" fill="#fff"/>
<ellipse cx="606.1" cy="686.3" rx="8.6" ry="18.6" transform="rotate(17 606.1 686.3)" stroke="#1c1c1c" stroke-width="1.1" fill="none"/>
<line x1="619.6" y1="661.2" x2="621" y2="666.4" stroke="#2a2a2a" stroke-width="5.2" stroke-linecap="round"/>
<ellipse cx="577.2" cy="702" rx="1.3" ry="1.8" transform="rotate(0 577.2 702)" fill="#1c1c1c"/>
<line x1="588.9" y1="645.5" x2="617" y2="659.5" stroke="#1c1c1c" stroke-width="1.1" stroke-linecap="butt" stroke-dasharray="9 4 2.5 4"/>
<ellipse cx="645.5" cy="709.2" rx="11.5" ry="18.6" transform="rotate(12 645.5 709.2)" stroke="#1c1c1c" stroke-width="1.3" fill="#fff"/>
<path d="M649,690.7 L654.5,692.2 M640.6,727 L646,728.6" stroke="#1c1c1c" stroke-width="1.2" fill="none" stroke-linejoin="round" stroke-linecap="round"/>
<ellipse cx="650.8" cy="710.8" rx="11.5" ry="18.3" transform="rotate(12 650.8 710.8)" stroke="#1c1c1c" stroke-width="1.5" fill="#fff"/>
<path d="M642.5,722 C637.5,712 640.5,698 649.5,693.2" stroke="#111" stroke-width="4.2" fill="none" stroke-linejoin="round" stroke-linecap="round"/>
<ellipse cx="652.2" cy="710.6" rx="8.2" ry="14" transform="rotate(12 652.2 710.6)" stroke="#1c1c1c" stroke-width="1.3" fill="none"/>
<ellipse cx="653.4" cy="710.3" rx="5.8" ry="10" transform="rotate(12 653.4 710.3)" stroke="#1c1c1c" stroke-width="1.6" fill="none"/>
<ellipse cx="655" cy="710" rx="3.2" ry="5.6" transform="rotate(12 655 710)" stroke="#1c1c1c" stroke-width="1.6" fill="none"/>
<path d="M649,715 l3,2.5 M650,706 l4.5,-1" stroke="#1c1c1c" stroke-width="1.8" fill="none" stroke-linejoin="round" stroke-linecap="round"/>
<path d="M685.8,708.1 C676,707 666,722 667.8,735 C668.5,741 673,746 679.5,749 L686,751.5 L694.5,754.5 C700,752 704.5,745.5 703.5,741.5 L697,738 L700,732 L703.5,727.5 L707.5,724.5 C712,722.5 713.5,718.5 711,716.5 L698.5,712 Z" stroke="#1c1c1c" stroke-width="1.5" fill="#fff" stroke-linejoin="round" stroke-linecap="round"/>
<path d="M698.5,712 C691,716 686,722 684.8,728 L697,735 L694.5,742 L687.5,751.5" stroke="#1c1c1c" stroke-width="1.3" fill="none" stroke-linejoin="round" stroke-linecap="round"/>
<path d="M684.8,728 L692.5,722 L700,726 M694.5,742 C697.5,736 701.5,733 705.5,734 M697,718.5 C699.5,724.5 704.5,725.5 707.5,724.5 M679.5,749 C681.5,744 680.5,740.5 682,741.5 C685,743 686.5,747 686,751.5" stroke="#1c1c1c" stroke-width="1.3" fill="none" stroke-linejoin="round" stroke-linecap="round"/>
<circle cx="686.9" cy="714.5" r="1.9" stroke="#1c1c1c" stroke-width="1.2" fill="#1c1c1c"/>
<path d="M718,741 L722.5,738.5 L731.5,742.5 L730.5,747.5 L726.5,748.5 L719.5,745.5 Z" stroke="#1c1c1c" stroke-width="1.3" fill="#444" stroke-linejoin="round" stroke-linecap="round"/>
<path d="M721,740 l-1,5 M723.5,740.5 l-1,5.5 M726,741.5 l-1,5.5" stroke="#ddd" stroke-width="0.8" fill="none" stroke-linejoin="round" stroke-linecap="round"/>
<path d="M704.6,655.6 L765.1,685 L757.7,702 L701.4,674.3 C698.3,668 700,659 704.6,655.6 Z" stroke="#1c1c1c" stroke-width="1.5" fill="#fff" stroke-linejoin="round" stroke-linecap="round"/>
<ellipse cx="761.6" cy="693.5" rx="4.4" ry="9.3" transform="rotate(24 761.6 693.5)" stroke="#1c1c1c" stroke-width="1.4" fill="#fff"/>
<ellipse cx="761.8" cy="693.6" rx="1.3" ry="1.9" transform="rotate(24 761.8 693.6)" stroke="#1c1c1c" stroke-width="1.1" fill="none"/>
<path d="M722.7,677.5 L732.2,681.8 L732.2,687.1 L722.7,682.8 Z" stroke="#1c1c1c" stroke-width="1.3" fill="#fff" stroke-linejoin="round" stroke-linecap="round"/>
<path d="M704.6,804.0 L765.1,833.4 L757.7,850.4 L701.4,822.6999999999999 C698.3,816.4 700,807.4 704.6,804.0 Z" stroke="#1c1c1c" stroke-width="1.5" fill="#fff" stroke-linejoin="round" stroke-linecap="round"/>
<ellipse cx="761.6" cy="841.9" rx="4.4" ry="9.3" transform="rotate(24 761.6 841.9)" stroke="#1c1c1c" stroke-width="1.4" fill="#fff"/>
<ellipse cx="761.8" cy="842.0" rx="1.3" ry="1.9" transform="rotate(24 761.8 842.0)" stroke="#1c1c1c" stroke-width="1.1" fill="none"/>
<path d="M722.7,825.9 L732.2,830.1999999999999 L732.2,835.5 L722.7,831.1999999999999 Z" stroke="#1c1c1c" stroke-width="1.3" fill="#fff" stroke-linejoin="round" stroke-linecap="round"/>
<line x1="766.6" y1="697" x2="797" y2="712.3" stroke="#1c1c1c" stroke-width="1.1" stroke-linecap="butt" stroke-dasharray="14 4 2.5 4"/>
<line x1="797" y1="712.3" x2="797" y2="752" stroke="#1c1c1c" stroke-width="1.1" stroke-linecap="butt" stroke-dasharray="9 4 2.5 4"/>
<line x1="766.6" y1="845.4" x2="797" y2="858.8" stroke="#1c1c1c" stroke-width="1.1" stroke-linecap="butt" stroke-dasharray="14 4 2.5 4"/>
<line x1="797" y1="858.8" x2="797" y2="818.8" stroke="#1c1c1c" stroke-width="1.1" stroke-linecap="butt" stroke-dasharray="9 4 2.5 4"/>
<ellipse cx="579.6" cy="772" rx="3.0" ry="4.6" transform="rotate(25 579.6 772)" stroke="#1c1c1c" stroke-width="1.5" fill="#3a3a3a"/>
<ellipse cx="579.9" cy="771.6" rx="1.0" ry="1.8" transform="rotate(25 579.9 771.6)" stroke="#fff" stroke-width="0.8" fill="#fff"/>
<line x1="578" y1="775.5" x2="576" y2="779" stroke="#1c1c1c" stroke-width="1.6" stroke-linecap="butt"/>
<g transform="translate(613.6 789.6) rotate(207)"><path d="M2,-2.6 L13.5,-2.6 Q16.5,-2.4 16.5,0 Q16.5,2.4 13.5,2.6 L2,2.6 Z" fill="#fff" stroke="#1c1c1c" stroke-width="1.4"/><ellipse cx="0" cy="0" rx="3.4" ry="5.4" fill="#2a2a2a" stroke="#1c1c1c" stroke-width="1.6"/><path d="M-2,-3 L-2,3 M0.5,-4 L0.5,4" stroke="#aaa" stroke-width="0.8"/></g>
<g transform="translate(552.7 734.9)"><path d="M-13,-7 L-3,-2.4 L-4,2.2 L-13.5,-2.6 Z" fill="#fff" stroke="#1c1c1c" stroke-width="1.3"/><ellipse cx="0" cy="0" rx="5" ry="6.6" transform="rotate(20)" fill="#fff" stroke="#1c1c1c" stroke-width="1.6"/><path d="M-2.6,-3.4 L1.6,-4.4 L4,-1 L2.6,3.6 L-1.6,4.4 L-3.8,1 Z" fill="none" stroke="#1c1c1c" stroke-width="1.2"/><ellipse cx="-13.2" cy="-4.8" rx="1.3" ry="2.4" transform="rotate(25 -13.2 -4.8)" fill="#fff" stroke="#1c1c1c" stroke-width="1.1"/></g>
<path d="M883.2,741.8 L1067.3,836.8 A79.8,79.8 0 0 1 994.1,978.6 L810.0,883.6 A79.8,79.8 0 0 1 883.2,741.8 Z" stroke="#444" stroke-width="1.05" fill="none" stroke-linejoin="round" stroke-linecap="round"/>
<line x1="780" y1="776.3" x2="872" y2="822.3" stroke="#1c1c1c" stroke-width="1.1" stroke-linecap="butt" stroke-dasharray="14 4 2.5 4"/>
<line x1="872" y1="822.3" x2="915" y2="844" stroke="#1c1c1c" stroke-width="1.1" stroke-linecap="butt" stroke-dasharray="9 5"/>
<line x1="895.4" y1="754.7" x2="895.4" y2="768" stroke="#1c1c1c" stroke-width="1.1" stroke-linecap="butt" stroke-dasharray="7 4"/>
<line x1="895.4" y1="866" x2="895.4" y2="908.5" stroke="#1c1c1c" stroke-width="1.1" stroke-linecap="butt" stroke-dasharray="7 4"/>
<line x1="895.4" y1="754.7" x2="908" y2="760.5" stroke="#1c1c1c" stroke-width="1.1" stroke-linecap="butt" stroke-dasharray="5 3"/>
<line x1="895.4" y1="908.5" x2="907" y2="914" stroke="#1c1c1c" stroke-width="1.1" stroke-linecap="butt" stroke-dasharray="5 3"/>
<line x1="796.6" y1="712.3" x2="796.6" y2="752.3" stroke="#1c1c1c" stroke-width="1.1" stroke-linecap="butt" stroke-dasharray="9 4 2.5 4"/>
<line x1="796.6" y1="752.3" x2="884.2" y2="798.5" stroke="#1c1c1c" stroke-width="1.1" stroke-linecap="butt" stroke-dasharray="14 4 2.5 4"/>
<line x1="798.2" y1="820.8" x2="798.2" y2="859" stroke="#1c1c1c" stroke-width="1.1" stroke-linecap="butt" stroke-dasharray="9 4 2.5 4"/>
<line x1="798.2" y1="820.8" x2="885.8" y2="863.8" stroke="#1c1c1c" stroke-width="1.1" stroke-linecap="butt" stroke-dasharray="14 4 2.5 4"/>
<line x1="906.5" y1="800" x2="940" y2="816" stroke="#1c1c1c" stroke-width="1.1" stroke-linecap="butt" stroke-dasharray="8 4"/>
<line x1="907" y1="839.5" x2="918" y2="845" stroke="#1c1c1c" stroke-width="1.1" stroke-linecap="butt" stroke-dasharray="5 3"/>
<line x1="900.2" y1="879.7" x2="916.1" y2="887.7" stroke="#1c1c1c" stroke-width="1.1" stroke-linecap="butt" stroke-dasharray="8 4"/>
<g transform="translate(793.5 784.2)"><path d="M-3,-19 L3,-17.5 L4.5,-10 L11,-12 L14,-6.5 L8.5,-1 L12.5,4 L10,10.5 L3.5,8 L2.5,17 L-4,20 L-7,12 L-12.5,13.5 L-15.5,7 L-10.5,1 L-14,-6 L-10,-11.5 L-4.5,-8.5 Z" fill="#fff" stroke="#1c1c1c" stroke-width="1.4" stroke-linejoin="round"/><path d="M-3,-19 L-6.5,-16.5 L-7,-10 M-10,-11.5 L-13,-8.5 M-14,-6 L-16.5,-2.5 L-12.5,2.5 M-15.5,7 L-17,10.5 L-14.5,15 L-9.5,13 M-4,20 L-8,17 L-8.5,12.5" fill="none" stroke="#1c1c1c" stroke-width="1.1"/><ellipse cx="0" cy="-1.5" rx="2" ry="3" fill="#1c1c1c"/><circle cx="12.5" cy="-6.5" r="1.5" fill="#1c1c1c"/><circle cx="-0.8" cy="15.5" r="1.5" fill="#1c1c1c"/></g>
<path d="M820.5,779.4 L815,785.8 L818.1,791.3 L814.2,804.9 L807.8,808.1 L806.2,812.8 L812.6,816.8 L831.5,825.8 L838,806 L843.5,787.5 L831.7,782.6 Z" stroke="#1c1c1c" stroke-width="1.4" fill="#fff" stroke-linejoin="round" stroke-linecap="round"/>
<path d="M807.8,808.1 L813.5,811 L812.6,816.8 M813.5,811 L814.2,804.9 M815,785.8 L820.5,788 L818.1,791.3 M820.5,788 L824,783" stroke="#1c1c1c" stroke-width="1.1" fill="none" stroke-linejoin="round" stroke-linecap="round"/>
<ellipse cx="838.1" cy="806.5" rx="11.6" ry="20" transform="rotate(17 838.1 806.5)" stroke="#1c1c1c" stroke-width="1.5" fill="#fff"/>
<path d="M832.5,824 C824.5,815 826,796.5 836.5,788" stroke="#111" stroke-width="3.0" fill="none" stroke-linejoin="round" stroke-linecap="round"/>
<ellipse cx="838" cy="807" rx="4.6" ry="8.3" transform="rotate(17 838 807)" stroke="#1c1c1c" stroke-width="1.5" fill="none"/>
<path d="M836.5,813.5 C833,809 834,802.5 837.6,799.5" stroke="#111" stroke-width="2.6" fill="none" stroke-linejoin="round" stroke-linecap="round"/>
<g transform="translate(822.9 842.3) rotate(25)"><path d="M1,-2.6 L12,-2.6 Q14.3,-2.2 14.3,0 Q14.3,2.2 12,2.6 L1,2.6 Z" fill="#fff" stroke="#1c1c1c" stroke-width="1.3"/><ellipse cx="0" cy="0" rx="2.7" ry="3.9" fill="#fff" stroke="#1c1c1c" stroke-width="2"/></g>
<path d="M860.3,804.9 L890.6,778.6 L892.2,776.2 L901.8,768.2 L906.5,771.4 L906.5,854.2 L895.4,865.4 L881.1,876.5 L877.9,882.9 L871.5,882.9 L863.5,892.5 L860.3,890.9 Z" stroke="#1c1c1c" stroke-width="1.5" fill="#fff" stroke-linejoin="round" stroke-linecap="round"/>
<path d="M860.3,804.9 L863.5,807 L863.5,892.5 M863.5,807 L892.5,781.5 L896.5,784.5 L897,779 L901.8,774.5 L901.8,768.2 M901.8,774.5 L906.5,777 M896.5,784.5 L896.5,800 M871.5,882.9 L872.5,876 L877,873 L881.1,876.5" stroke="#1c1c1c" stroke-width="1.1" fill="none" stroke-linejoin="round" stroke-linecap="round"/>
<ellipse cx="885.8" cy="831.9" rx="17" ry="26.5" transform="rotate(17 885.8 831.9)" stroke="#1c1c1c" stroke-width="1.4" fill="none"/>
<path d="M900.5,812.5 C904.5,822 903,838 896,849" stroke="#1c1c1c" stroke-width="1.1" fill="none" stroke-linejoin="round" stroke-linecap="round"/>
<g transform="translate(904.2 798.5) rotate(25)"><rect x="-3.2" y="-2.2" width="6.4" height="4.4" rx="2" fill="#fff" stroke="#1c1c1c" stroke-width="1.2"/></g>
<g transform="translate(904.2 838.3) rotate(25)"><rect x="-3.2" y="-2.2" width="6.4" height="4.4" rx="2" fill="#fff" stroke="#1c1c1c" stroke-width="1.2"/></g>
<g transform="translate(871.5 827.2) rotate(25)"><rect x="-3.2" y="-2.2" width="6.4" height="4.4" rx="2" fill="#fff" stroke="#1c1c1c" stroke-width="1.2"/></g>
<ellipse cx="885.8" cy="798.5" rx="1.5" ry="2.2" transform="rotate(25 885.8 798.5)" fill="#1c1c1c"/>
<ellipse cx="885.8" cy="863" rx="1.5" ry="2.2" transform="rotate(25 885.8 863)" fill="#1c1c1c"/>
<ellipse cx="868.3" cy="865.4" rx="1.5" ry="2.2" transform="rotate(25 868.3 865.4)" fill="#1c1c1c"/>
<ellipse cx="876.5" cy="874.5" rx="1.5" ry="2.2" transform="rotate(25 876.5 874.5)" stroke="#1c1c1c" stroke-width="1" fill="none"/>
<g transform="translate(922.5 768.2) rotate(205)"><path d="M2,-2.4 L12.5,-2.4 Q15,-2.2 15,0 Q15,2.2 12.5,2.4 L2,2.4 Z" fill="#fff" stroke="#1c1c1c" stroke-width="1.4"/><ellipse cx="0" cy="0" rx="3.6" ry="5.2" fill="#222" stroke="#1c1c1c" stroke-width="1.6"/><ellipse cx="1.2" cy="0" rx="1.6" ry="2.8" fill="none" stroke="#bbb" stroke-width="0.9"/></g>
<g transform="translate(921.3 921.8) rotate(205)"><path d="M2,-2.4 L12.5,-2.4 Q15,-2.2 15,0 Q15,2.2 12.5,2.4 L2,2.4 Z" fill="#fff" stroke="#1c1c1c" stroke-width="1.4"/><ellipse cx="0" cy="0" rx="3.6" ry="5.2" fill="#222" stroke="#1c1c1c" stroke-width="1.6"/><ellipse cx="1.2" cy="0" rx="1.6" ry="2.8" fill="none" stroke="#bbb" stroke-width="0.9"/></g>
<path d="M951.5,832 L964.5,832.6 L1012.5,854 L1003,868 L989,890 L984.3,924.6 L929.1,896.3 C925,880 932,848 951.5,832 Z" stroke="#fff" stroke-width="1.0" fill="#fff" stroke-linejoin="round" stroke-linecap="round"/>
<path d="M951.7,841 C941,856 936.5,876 938.3,894.9" stroke="#1c1c1c" stroke-width="1.3" fill="none" stroke-linejoin="round" stroke-linecap="round"/>
<path d="M972,834.8 C962,843 954,868 954.6,890.6 C954.8,897 955.3,901.5 956.5,905.5" stroke="#1c1c1c" stroke-width="1.3" fill="none" stroke-linejoin="round" stroke-linecap="round"/>
<path d="M993.5,843.8 C982,852 972.5,877 973,899.1 C973.2,905 974.2,910 976.3,914" stroke="#1c1c1c" stroke-width="1.3" fill="none" stroke-linejoin="round" stroke-linecap="round"/>
<path d="M1007,852.5 C994,862 982,884 982.2,901.9 C982.4,910 983,917 984.6,923.8" stroke="#1c1c1c" stroke-width="1.3" fill="none" stroke-linejoin="round" stroke-linecap="round"/>
<path d="M1012,859.5 C1000,870 993,880 990,890.6" stroke="#1c1c1c" stroke-width="1.3" fill="none" stroke-linejoin="round" stroke-linecap="round"/>
<path d="M929.1,896.3 L984.3,924.6" stroke="#1c1c1c" stroke-width="1.4" fill="none" stroke-linejoin="round" stroke-linecap="round"/>
<path d="M964.5,832.6 L978.6,836.8" stroke="#1c1c1c" stroke-width="1.3" fill="none" stroke-linejoin="round" stroke-linecap="round"/>
<path d="M914.2,848.1 L917,842.5 L921.3,842.5 L924.1,845.3 L938.3,837.5 L939,833.3 L955.3,817 L958.8,817 L965.9,821.2 L965.9,826.2 L959.5,828.3 L951,833 C938,844 928,866 927.5,884 L929.5,893 L932.6,897.7 L926.2,904.8 L917.7,897.7 L917,883.5 L920.6,879.3 L916.3,875 L916.3,852.4 Z" stroke="#1c1c1c" stroke-width="1.4" fill="#fff" stroke-linejoin="round" stroke-linecap="round"/>
<path d="M921.3,842.5 L925.5,849.5 L927.2,857 M924.1,845.3 L925.5,849.5 M939,833.3 L942.5,836 M955.3,817 L960.5,821 L959.5,828.3 M960.5,821 L965.9,821.2 M917,883.5 L922,887 L926.2,904.8 M922,887 L927.5,884 M916.3,852.4 L920.8,855.5 L920.6,879.3" stroke="#1c1c1c" stroke-width="1.1" fill="none" stroke-linejoin="round" stroke-linecap="round"/>
<ellipse cx="928.3" cy="896.7" rx="1.5" ry="2.0" transform="rotate(0 928.3 896.7)" stroke="#1c1c1c" stroke-width="1" fill="none"/>
<ellipse cx="962" cy="825" rx="1.2" ry="1.6" transform="rotate(0 962 825)" stroke="#1c1c1c" stroke-width="1" fill="none"/>
<path d="M976.5,837.5 L981.5,834 L994.2,839.6 L994.2,843.9 L988.5,845.3 L982.9,842.5 Z" stroke="#1c1c1c" stroke-width="1.4" fill="#fff" stroke-linejoin="round" stroke-linecap="round"/>
<path d="M982.9,842.5 L985.5,838 L994.2,839.6 M985.5,838 L981.5,834" stroke="#1c1c1c" stroke-width="1.0" fill="none" stroke-linejoin="round" stroke-linecap="round"/>
<line x1="994.2" y1="845" x2="1019" y2="856.8" stroke="#111" stroke-width="2.4" stroke-linecap="butt"/>
<path d="M990,890.6 L1025.4,853.8 L1044.5,863.7 L1010.5,894.9 L1007,899.1 Z" stroke="#1c1c1c" stroke-width="1.4" fill="#fff" stroke-linejoin="round" stroke-linecap="round"/>
<path d="M992.5,889 L1027,856" stroke="#444" stroke-width="1.0" fill="none" stroke-linejoin="round" stroke-linecap="round"/>
<path d="M990,890.6 L1007,899.1 L1007,944.4 L987.1,931.7 L982.2,923.2 L982.9,910.4 Z" stroke="#1c1c1c" stroke-width="1.4" fill="#fff" stroke-linejoin="round" stroke-linecap="round"/>
<path d="M1007,899.1 L1010.5,894.9 L1010.5,941.6 L1007,944.4" stroke="#1c1c1c" stroke-width="1.3" fill="#fff" stroke-linejoin="round" stroke-linecap="round"/>
<ellipse cx="992.8" cy="906.9" rx="2.2" ry="3.2" transform="rotate(-15 992.8 906.9)" stroke="#1c1c1c" stroke-width="1.2" fill="none"/>
<line x1="990" y1="917" x2="990" y2="934" stroke="#111" stroke-width="1.7" stroke-linecap="butt"/>
<line x1="993.5" y1="926" x2="993.5" y2="937.5" stroke="#111" stroke-width="1.7" stroke-linecap="butt"/>
<line x1="996.3" y1="922" x2="996.3" y2="939.5" stroke="#111" stroke-width="1.7" stroke-linecap="butt"/>
<line x1="999.2" y1="922" x2="999.2" y2="941" stroke="#111" stroke-width="1.7" stroke-linecap="butt"/>
<line x1="1002.7" y1="927" x2="1002.7" y2="943" stroke="#111" stroke-width="1.7" stroke-linecap="butt"/>
<path d="M982.2,923.2 L1007,936" stroke="#1c1c1c" stroke-width="1.1" fill="none" stroke-linejoin="round" stroke-linecap="round"/>
<path d="M1013,900 L1017.5,896.5 L1019.5,899 L1018,904 L1014,905.5 Z" stroke="#1c1c1c" stroke-width="1.2" fill="#fff" stroke-linejoin="round" stroke-linecap="round"/>
<path d="M1011.5,938 L1016,939.5 L1017,943 L1013.5,944.5" stroke="#1c1c1c" stroke-width="1.2" fill="none" stroke-linejoin="round" stroke-linecap="round"/>
<path d="M1044.5,863.7 L1093.9,889.6 C1098.5,893 1100.8,898 1100.3,904.4 C1100,920 1096,936 1089.7,946.9 C1083,956.5 1075,962 1066.3,961.8 L1010.5,941.6" stroke="#1c1c1c" stroke-width="1.3" fill="none" stroke-linejoin="round" stroke-linecap="round"/>
<path d="M1017.5,896.5 L1040,873 M1019,902 L1062,921 M1020,908 L1058,925 M1019,937 L1058,951" stroke="#b0b0b0" stroke-width="1.4" fill="none" stroke-linejoin="round" stroke-linecap="round" stroke-dasharray="7 5"/>
<path d="M1040,873 L1086,897 M1067,906 L1094,892 M1067,906 L1060,955 M1048,892 L1067,906" stroke="#c4c4c4" stroke-width="1.2" fill="none" stroke-linejoin="round" stroke-linecap="round" stroke-dasharray="6 5"/>
<ellipse cx="1076.9" cy="927.8" rx="12.7" ry="18.2" transform="rotate(22 1076.9 927.8)" stroke="#555" stroke-width="1.3" fill="#fff"/>
<ellipse cx="1076.5" cy="928" rx="9.5" ry="14.5" transform="rotate(22 1076.5 928)" stroke="#666" stroke-width="1.2" fill="none"/>
<path d="M1071,920 L1069.5,935 L1078,939 M1070.3,928 L1079,924" stroke="#666" stroke-width="1.5" fill="none" stroke-linejoin="round" stroke-linecap="round"/>
<circle cx="1004.8" cy="829" r="3.2" stroke="#1c1c1c" stroke-width="2.4" fill="none"/>
<line x1="1008" y1="830.5" x2="1072.7" y2="874.7" stroke="#111" stroke-width="2.9" stroke-linecap="butt"/>
<line x1="1007" y1="833" x2="1062" y2="871" stroke="#111" stroke-width="2.4" stroke-linecap="butt"/>
<path d="M1044.5,865 L1053,871.5 L1089.7,893.8 Q1097,896 1096,890.5 Q1095.5,887 1093.9,885.3 L1072.7,874.7" stroke="#1c1c1c" stroke-width="1.3" fill="none" stroke-linejoin="round" stroke-linecap="round"/>
<g id="tl">
<path d="M237.7,306.3 L265,319.9 L255.2,332.6 L251.3,336.5 L145.2,433.8 L141.5,431 L142.3,424.1 L118.9,389 L100,370 L80,330 L150,250 Z" stroke="#fff" stroke-width="1.0" fill="#fff" stroke-linejoin="round" stroke-linecap="round"/>
<path d="M237.7,306.3 L265,319.9 L255.2,332.6 L251.3,336.5 L145.2,433.8 L141.5,431" stroke="#1c1c1c" stroke-width="1.4" fill="none" stroke-linejoin="round" stroke-linecap="round"/>
<path d="M256.5,316.5 L260,321.5 L255.2,332.6" stroke="#1c1c1c" stroke-width="1.1" fill="none" stroke-linejoin="round" stroke-linecap="round"/>
<path d="M240.5,336 L157,412 M244,338.5 L160.5,414.5" stroke="#b4b4b4" stroke-width="1.2" fill="none" stroke-linejoin="round" stroke-linecap="round" stroke-dasharray="8 4 8 4 2 4"/>
<ellipse cx="247.4" cy="333.5" rx="1.8" ry="2.8" transform="rotate(30 247.4 333.5)" stroke="#1c1c1c" stroke-width="1.8" fill="#999"/>
<ellipse cx="153" cy="419.2" rx="1.8" ry="2.8" transform="rotate(30 153 419.2)" stroke="#1c1c1c" stroke-width="1.8" fill="#999"/>
<path d="M254.3,337.4 L262,328.7 L272.8,328.7 L272.8,369.6 L265,377.4 L263,396.8 L255.2,402.7 L207.5,377.4 L216.3,367.6 L224.1,365.7 L254.3,381 Z" stroke="#1c1c1c" stroke-width="1.3" fill="#fff" stroke-linejoin="round" stroke-linecap="round"/>
<path d="M262,328.7 L262,381.2 M255.2,402.7 L255.2,389 L265,381.2 M255.2,389 L216.3,369" stroke="#1c1c1c" stroke-width="1.1" fill="none" stroke-linejoin="round" stroke-linecap="round"/>
<path d="M258,345 L258,378" stroke="#b4b4b4" stroke-width="1.0" fill="none" stroke-linejoin="round" stroke-linecap="round" stroke-dasharray="3 4"/>
<g transform="translate(264.3 336.7) scale(0.8)"><path d="M-5.5,-1.5 L-2,-7 L3.5,-6.5 L6,-1.5 L5.5,4.5 L1.5,8 L-4,7.5 L-6.5,3.5 Z" fill="#fff" stroke="#1c1c1c" stroke-width="1.8" stroke-linejoin="round"/><path d="M-5.5,-1.5 L-2.5,-5 L2.5,-4.5 L4.5,-0.5 L2,4 L-3,4.5 L-5.5,1 Z" fill="none" stroke="#1c1c1c" stroke-width="1.1" stroke-linejoin="round"/><ellipse cx="-0.5" cy="-0.3" rx="1.9" ry="2.5" transform="rotate(20)" fill="none" stroke="#1c1c1c" stroke-width="1"/></g>
<ellipse cx="267.9" cy="354" rx="1.4" ry="2.2" transform="rotate(0 267.9 354)" stroke="#1c1c1c" stroke-width="1.2" fill="none"/>
<ellipse cx="267.9" cy="366.6" rx="1.4" ry="2.2" transform="rotate(0 267.9 366.6)" stroke="#1c1c1c" stroke-width="1.2" fill="none"/>
<ellipse cx="266.5" cy="359.5" rx="0.9" ry="1.3" transform="rotate(0 266.5 359.5)" fill="#1c1c1c"/>
<ellipse cx="259" cy="394" rx="1.6" ry="3.0" transform="rotate(0 259 394)" stroke="#1c1c1c" stroke-width="1.1" fill="none"/>
<path d="M226,368 C232,368 236,374 240,382 C243,388 246,391.5 252,393" stroke="#111" stroke-width="2.8" fill="none" stroke-linejoin="round" stroke-linecap="round"/>
<path d="M231,366 C236,369 240,377 245,384 M236,372 l10,12 M233,380 l12,9 M228,377 l8,10 M240,371 l9,12" stroke="#111" stroke-width="1.8" fill="none" stroke-linejoin="round" stroke-linecap="round"/>
<path d="M224.5,372.5 q3.5,-1.5 4.5,3 q0,4.5 -3.5,4.5 Z" stroke="#1c1c1c" stroke-width="1.7" fill="none" stroke-linejoin="round" stroke-linecap="round"/>
<path d="M224.1,393.9 C218.5,394.5 217.5,400.5 224.1,403.2 C231,405.5 240,402.5 245.5,398.8" stroke="#111" stroke-width="2.4" fill="none" stroke-linejoin="round" stroke-linecap="round"/>
<path d="M167.5,160 L270.5,190.1 L312,213.5 L314.7,216.6 L314.7,239 L215.3,327.1 L211.1,326 L211.1,303.7 L181.3,288.9 L177.1,294.2 L137.8,272.9 L135.7,264.4 L102.7,249.6 L98,246 Z" stroke="#fff" stroke-width="1.0" fill="#fff" stroke-linejoin="round" stroke-linecap="round"/>
<path d="M262,186.5 L270.5,190.1 L310,212.3 Q314.7,215 314.7,220 L314.7,239 L215.3,327.1 L211.1,326 L211.1,303.7 L181.3,288.9 L177.1,294.2 L137.8,272.9 L135.7,264.4 L102.7,249.6" stroke="#1c1c1c" stroke-width="1.4" fill="none" stroke-linejoin="round" stroke-linecap="round"/>
<path d="M135.7,264.4 L179.2,286.7 L181.3,288.9 M179.2,286.7 L177.1,294.2 M137.8,272.9 L102,256" stroke="#1c1c1c" stroke-width="1.2" fill="none" stroke-linejoin="round" stroke-linecap="round"/>
<path d="M307.5,216.8 L211.2,301.7" stroke="#b9b9b9" stroke-width="1.5" fill="none" stroke-linejoin="round" stroke-linecap="round" stroke-dasharray="6 4 6 4 2 5 2 9"/>
<path d="M310.5,221 L214.5,305.5" stroke="#b9b9b9" stroke-width="1.5" fill="none" stroke-linejoin="round" stroke-linecap="round" stroke-dasharray="6 4 6 17"/>
<ellipse cx="303.8" cy="235.9" rx="2.0" ry="3.0" transform="rotate(25 303.8 235.9)" stroke="#1c1c1c" stroke-width="1.9" fill="#999"/>
<ellipse cx="221.9" cy="309.4" rx="2.0" ry="3.0" transform="rotate(25 221.9 309.4)" stroke="#1c1c1c" stroke-width="1.9" fill="#999"/>
<path d="M125,229.4 L206.8,270.8 L258.9,224.1 L253.5,222" stroke="#1c1c1c" stroke-width="1.3" fill="none" stroke-linejoin="round" stroke-linecap="round"/>
<path d="M247.2,224.1 L257.8,224.1 L248.2,234.7 Z M249.5,226 L254,226 L250,230.5 Z" stroke="#1c1c1c" stroke-width="1.1" fill="none" stroke-linejoin="round" stroke-linecap="round"/>
<path d="M165,165 L232.8,196.2 L251.2,198.5 L253.5,203.6 L251.8,223.2 L223.6,209.4 L204,200.5 L183.4,190 L165,183 Z" stroke="#fff" stroke-width="1.0" fill="#fff" stroke-linejoin="round" stroke-linecap="round"/>
<path d="M232.8,196.2 L251.2,198.5 L253.5,203.6 L251.8,223.2 L237.4,216.5" stroke="#1c1c1c" stroke-width="1.4" fill="none" stroke-linejoin="round" stroke-linecap="round"/>
<path d="M183.4,176.5 L183.4,189.5 L204,199.5 M223.6,196 L223.6,209.4 L237.4,216.5" stroke="#1c1c1c" stroke-width="1.3" fill="none" stroke-linejoin="round" stroke-linecap="round"/>
<path d="M178.8,178.3 L178.8,199 C179.5,205 184,207.5 190.5,202.5" stroke="#1c1c1c" stroke-width="1.6" fill="none" stroke-linejoin="round" stroke-linecap="round"/>
<path d="M219,204.8 L219,222 C220,228.5 227,229.5 237.4,220.9" stroke="#1c1c1c" stroke-width="1.6" fill="none" stroke-linejoin="round" stroke-linecap="round"/>
<ellipse cx="173" cy="171.4" rx="8.2" ry="7" transform="rotate(-25 173 171.4)" stroke="#1c1c1c" stroke-width="1.4" fill="#fff"/>
<path d="M167,169.5 l5,-2.5 M169,173 l6,-3" stroke="#666" stroke-width="1.2" fill="none" stroke-linejoin="round" stroke-linecap="round"/>
<ellipse cx="213.3" cy="194.4" rx="8.2" ry="7" transform="rotate(-25 213.3 194.4)" stroke="#1c1c1c" stroke-width="1.4" fill="#fff"/>
<path d="M207,192.5 l5,-2.5 M209,196 l6,-3" stroke="#666" stroke-width="1.2" fill="none" stroke-linejoin="round" stroke-linecap="round"/>
<circle cx="171.9" cy="196.7" r="3.0" stroke="#1c1c1c" stroke-width="1.4" fill="#fff"/>
<circle cx="212.1" cy="217.4" r="3.0" stroke="#1c1c1c" stroke-width="1.4" fill="#fff"/>
<path d="M170,195.5 l3.5,2.5 M210.5,216 l3.5,2.5" stroke="#1c1c1c" stroke-width="1" fill="none" stroke-linejoin="round" stroke-linecap="round"/>
<path d="M189.7,137.8 L193.7,139.2 L206.5,155.5 L207,173 L171.3,154.7 Z" stroke="#1c1c1c" stroke-width="1.3" fill="#fff" stroke-linejoin="round" stroke-linecap="round"/>
<path d="M190.8,139.2 L177.6,151.9" stroke="#1c1c1c" stroke-width="1.0" fill="none" stroke-linejoin="round" stroke-linecap="round"/>
<path d="M229.4,158.2 L233,159.5 L245.5,176 L251.2,179.5 L253.5,203.6 L247,200 L247,193 L216.2,169.1 Z" stroke="#1c1c1c" stroke-width="1.3" fill="#fff" stroke-linejoin="round" stroke-linecap="round"/>
<path d="M230.5,160 L218.5,171" stroke="#1c1c1c" stroke-width="1.0" fill="none" stroke-linejoin="round" stroke-linecap="round"/>
<path d="M199.5,163.4 L209.8,158.8 L213,162 L212.5,167.5 L205,171" stroke="#1c1c1c" stroke-width="1.3" fill="#fff" stroke-linejoin="round" stroke-linecap="round"/>
<ellipse cx="210.5" cy="160.5" rx="3.2" ry="4.2" transform="rotate(-30 210.5 160.5)" stroke="#1c1c1c" stroke-width="1.2" fill="#fff"/>
<path d="M237.4,185.2 L245.5,176 L251.2,179.5 L250,186 L243.5,191" stroke="#1c1c1c" stroke-width="1.3" fill="#fff" stroke-linejoin="round" stroke-linecap="round"/>
<ellipse cx="242" cy="184.2" rx="3.6" ry="5" transform="rotate(-30 242 184.2)" stroke="#1c1c1c" stroke-width="1.2" fill="#fff"/>
<path d="M171.3,154.7 L232.8,188.7 L232.2,194.5 L230.5,196.2 L167.3,162.2 Z" stroke="#1c1c1c" stroke-width="1.4" fill="#fff" stroke-linejoin="round" stroke-linecap="round"/>
<path d="M173,159.5 L226,188.5" stroke="#bbb" stroke-width="1.2" fill="none" stroke-linejoin="round" stroke-linecap="round" stroke-dasharray="2 7 6 5"/>
<line x1="167.2" y1="183" x2="119" y2="231.2" stroke="#262626" stroke-width="14" stroke-linecap="round"/>
<line x1="167.2" y1="183" x2="119" y2="231.2" stroke="#8a8a8a" stroke-width="14" stroke-linecap="butt" stroke-dasharray="0.7 1.6"/>
<path d="M114.8,227.0 L112.6,237.6 L123.2,235.4 Z" stroke="#262626" stroke-width="1" fill="#262626" stroke-linejoin="round" stroke-linecap="round"/>
<line x1="204.3" y1="204.3" x2="153" y2="250.9" stroke="#262626" stroke-width="14" stroke-linecap="round"/>
<line x1="204.3" y1="204.3" x2="153" y2="250.9" stroke="#8a8a8a" stroke-width="14" stroke-linecap="butt" stroke-dasharray="0.7 1.6"/>
<path d="M149.0,246.5 L146.3,257.0 L157.0,255.3 Z" stroke="#262626" stroke-width="1" fill="#262626" stroke-linejoin="round" stroke-linecap="round"/>
<path d="M112,240.5 l-4,4 M146,258 l-8,6 l-2,4" stroke="#1c1c1c" stroke-width="1.3" fill="none" stroke-linejoin="round" stroke-linecap="round"/>
<path d="M263,162.5 C258,166 254.5,171 255,176 C258,178 264,176.5 268,179.5 C271.5,183 271,188 266,190" stroke="#1c1c1c" stroke-width="1.5" fill="none" stroke-linejoin="round" stroke-linecap="round"/>
<path d="M261.5,159 l3.5,-1.8 l2.2,2.6 l-2,3 l-3,-0.8 Z" stroke="#1c1c1c" stroke-width="1.2" fill="#222" stroke-linejoin="round" stroke-linecap="round"/>
<circle cx="258.1" cy="194.4" r="3.4" stroke="#1c1c1c" stroke-width="1.6" fill="#555"/>
<circle cx="258.1" cy="194.4" r="1.3" stroke="#fff" stroke-width="1.0" fill="none"/>
<path d="M272,189.5 L276,191.5" stroke="#1c1c1c" stroke-width="1.2" fill="none" stroke-linejoin="round" stroke-linecap="round"/>
<ellipse cx="277.5" cy="190" rx="2.2" ry="3.0" transform="rotate(0 277.5 190)" stroke="#1c1c1c" stroke-width="1.2" fill="#fff"/>
<ellipse cx="287.5" cy="196" rx="2.2" ry="3.0" transform="rotate(0 287.5 196)" stroke="#1c1c1c" stroke-width="1.2" fill="#fff"/>
</g>
<g id="ll">
<path d="M73.7,478.7 L80.1,478.7 L86.5,493.5 L84.3,502 L19.6,560.5 L19,525 Z" stroke="#fff" stroke-width="1.0" fill="#fff" stroke-linejoin="round" stroke-linecap="round"/>
<path d="M73.7,478.7 L22.7,521.2 M80.1,478.7 L86.5,493.5 L84.3,502 L19.6,560.5 M80.1,499.9 L21.7,553 M76,482 L22,527 M60,505 L21,538" stroke="#1c1c1c" stroke-width="1.3" fill="none" stroke-linejoin="round" stroke-linecap="round"/>
<path d="M70,494 L24,534 M74,498 L28,540" stroke="#b4b4b4" stroke-width="1.2" fill="none" stroke-linejoin="round" stroke-linecap="round" stroke-dasharray="6 4"/>
<path d="M22,551 L52.2,527 L52.2,530.2 L22,555.7" stroke="#1c1c1c" stroke-width="1.2" fill="none" stroke-linejoin="round" stroke-linecap="round"/>
<path d="M31,541.5 l6,-4.6 M40,534.5 l6,-4.6" stroke="#222" stroke-width="2.2" fill="none" stroke-linejoin="round" stroke-linecap="round"/>
<path d="M84.3,502 L133.2,459.6 L134.3,453.2 L120,440 L86.5,470 L86.5,493.5 Z" stroke="#1c1c1c" stroke-width="1.3" fill="#fff" stroke-linejoin="round" stroke-linecap="round"/>
<path d="M86.5,493.5 L131,455" stroke="#1c1c1c" stroke-width="1.1" fill="none" stroke-linejoin="round" stroke-linecap="round"/>
<path d="M112.5,480 l3,1.5 l0,4 l-3,-1.2 Z" stroke="#1c1c1c" stroke-width="1.2" fill="#fff" stroke-linejoin="round" stroke-linecap="round"/>
<path d="M51.4,434.1 L51.4,470.2 L57,474.5 L62,464 L66,474 L73.7,466 L73.7,432 Z" stroke="#1c1c1c" stroke-width="1.3" fill="#fff" stroke-linejoin="round" stroke-linecap="round"/>
<path d="M56.5,462.5 L61.5,475 L67.5,465.5" stroke="#1c1c1c" stroke-width="1.2" fill="none" stroke-linejoin="round" stroke-linecap="round"/>
<path d="M25.9,472.3 L35.5,482.9 L22.7,491.4 Z" stroke="#1c1c1c" stroke-width="1.2" fill="none" stroke-linejoin="round" stroke-linecap="round"/>
<path d="M35.5,482.9 C40,486 44,484 48.2,483" stroke="#1c1c1c" stroke-width="1.2" fill="none" stroke-linejoin="round" stroke-linecap="round"/>
<path d="M27.5,460.1 L64.2,413.9" stroke="#242424" stroke-width="11.5" fill="none" stroke-linejoin="round" stroke-linecap="butt"/>
<path d="M27.5,460.1 L64.2,413.9" stroke="#fff" stroke-width="5.6" fill="none" stroke-linejoin="round" stroke-linecap="round" stroke-dasharray="0.1 7.2"/>
<path d="M46,487 C58,474 70,463.5 80,457.5 C90,452 97,447 101.5,439" stroke="#242424" stroke-width="7.5" fill="none" stroke-linejoin="round" stroke-linecap="butt"/>
<path d="M46,487 C58,474 70,463.5 80,457.5 C90,452 97,447 101.5,439" stroke="#fff" stroke-width="3.6" fill="none" stroke-linejoin="round" stroke-linecap="round" stroke-dasharray="0.1 5.2"/>
<path d="M22.5,516.5 L52,499" stroke="#242424" stroke-width="4.6" fill="none" stroke-linejoin="round" stroke-linecap="butt"/>
<path d="M22.5,516.5 L52,499" stroke="#fff" stroke-width="1.6" fill="none" stroke-linejoin="round" stroke-linecap="round" stroke-dasharray="0.1 4"/>
<path d="M23,524 L49,507" stroke="#242424" stroke-width="3.2" fill="none" stroke-linejoin="round" stroke-linecap="butt"/>
<path d="M23,524 L49,507" stroke="#fff" stroke-width="1.2" fill="none" stroke-linejoin="round" stroke-linecap="round" stroke-dasharray="0.1 5"/>
<path d="M103.4,349.1 L141.3,366.6 L141.9,370.5 L119.9,385.1 L113.1,386.1 L88.8,414.3 L51.4,398 Z" stroke="#1c1c1c" stroke-width="1.4" fill="#fff" stroke-linejoin="round" stroke-linecap="round"/>
<path d="M55,400.5 L86,414" stroke="#b4b4b4" stroke-width="1.1" fill="none" stroke-linejoin="round" stroke-linecap="round" stroke-dasharray="5 5"/>
<path d="M51.4,398 L45,385.2 M51.4,398 L51.4,434.1 M45,385.2 L31,436" stroke="#1c1c1c" stroke-width="1.2" fill="none" stroke-linejoin="round" stroke-linecap="round"/>
<ellipse cx="40.5" cy="410.5" rx="2" ry="3" transform="rotate(0 40.5 410.5)" stroke="#1c1c1c" stroke-width="1.1" fill="none"/>
<path d="M103.4,380.8 L112.6,384.6 L111.6,389.6 L102.6,385.6 Z" stroke="#1c1c1c" stroke-width="1.3" fill="#fff" stroke-linejoin="round" stroke-linecap="round"/>
<ellipse cx="103" cy="383.2" rx="1.6" ry="2.6" transform="rotate(20 103 383.2)" stroke="#1c1c1c" stroke-width="1.2" fill="#fff"/>
<path d="M112.1,387.1 L118.9,389 L142.3,424.1 L142.3,433.8 L137.4,435.8 L120.4,428 L111.2,388.1 Z" stroke="#1c1c1c" stroke-width="1.3" fill="#fff" stroke-linejoin="round" stroke-linecap="round"/>
<path d="M111.2,388.1 L88.8,414.3 L88.8,426 L94,430" stroke="#1c1c1c" stroke-width="1.3" fill="#fff" stroke-linejoin="round" stroke-linecap="round"/>
<path d="M118,409 L138,420.5 L138,433 M118,409 L127,428" stroke="#1c1c1c" stroke-width="1.7" fill="none" stroke-linejoin="round" stroke-linecap="round"/>
<circle cx="132.5" cy="421" r="1.8" stroke="#1c1c1c" stroke-width="1.2" fill="#1c1c1c"/>
<path d="M112.5,392 C117,402 115.5,416 109.8,428" stroke="#242424" stroke-width="5" fill="none" stroke-linejoin="round" stroke-linecap="butt"/>
<path d="M112.5,392 C117,402 115.5,416 109.8,428" stroke="#fff" stroke-width="0.5" fill="none" stroke-linejoin="round" stroke-linecap="round" stroke-dasharray="0.1 2.1"/>
<path d="M94.6,416.3 L148.1,443.6 L142.3,458.2 L87.8,428.9 C85.5,424 88.5,417.5 94.6,416.3 Z" stroke="#1c1c1c" stroke-width="1.4" fill="#fff" stroke-linejoin="round" stroke-linecap="round"/>
<ellipse cx="146.6" cy="451" rx="5.2" ry="7.8" transform="rotate(20 146.6 451)" stroke="#1c1c1c" stroke-width="1.4" fill="#fff"/>
</g>
<path d="M189.8,138.1 A588.6,588.6 0 0 0 19.6,560.5 L0,562 L0,120 L189,120 Z" stroke="#fff" stroke-width="0.5" fill="#fff" stroke-linejoin="round" stroke-linecap="round"/>
<path d="M189.8,138.1 A588.6,588.6 0 0 0 19.6,560.5" stroke="#2a2a2a" stroke-width="1.3" fill="none" stroke-linejoin="round" stroke-linecap="round"/>
<line x1="19.6" y1="560.5" x2="84.3" y2="502" stroke="#1c1c1c" stroke-width="1.4" stroke-linecap="butt"/>
<circle cx="26.8" cy="646.5" r="0.9" stroke="#555" stroke-width="0.5" fill="#555"/>
</svg>
</body></html>
